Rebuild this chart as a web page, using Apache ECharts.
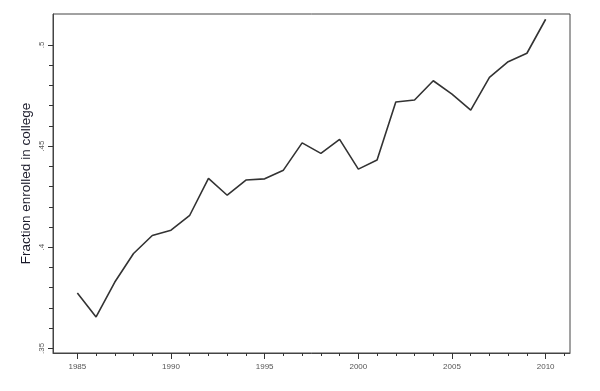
<!DOCTYPE html>
<html><head><meta charset="utf-8">
<script src="https://cdn.jsdelivr.net/npm/echarts@6/dist/echarts.min.js"></script>
<style>html,body{margin:0;padding:0;background:#fff}#c{width:600px;height:391px}</style>
</head><body><div id="c"></div>
<script>
const years = [1985,1986,1987,1988,1989,1990,1991,1992,1993,1994,1995,1996,1997,1998,1999,2000,2001,2002,2003,2004,2005,2006,2007,2008,2009,2010];
const fraction = [0.3774,0.3655,0.3828,0.3969,0.4058,0.4084,0.4158,0.4340,0.4257,0.4332,0.4338,0.4381,0.4516,0.4464,0.4533,0.4386,0.4431,0.4718,0.4728,0.4823,0.4757,0.4678,0.4840,0.4917,0.4959,0.5127];
const xMajorTicks = [1985,1990,1995,2000,2005,2010];
const xMinorTicks = [1985,1986,1987,1988,1989,1990,1991,1992,1993,1994,1995,1996,1997,1998,1999,2000,2001,2002,2003,2004,2005,2006,2007,2008,2009,2010,2011];
const yMajorTicks = [0.35,0.40,0.45,0.50];
const yMinorTicks = [0.35,0.36,0.37,0.38,0.39,0.40,0.41,0.42,0.43,0.44,0.45,0.46,0.47,0.48,0.49,0.50];
const yTitle = 'Fraction enrolled in college';

const X_MIN = 1983.7, X_MAX = 2011.3, Y_MIN = 0.3477, Y_MAX = 0.5153;
const fmtY = v => String(Math.round(v*100)/100).replace(/^0/, '');
const lab = {color:'#555', fontFamily:'Liberation Sans, Arial, sans-serif', fontSize:8};

const chart = echarts.init(document.getElementById('c'), null, {renderer:'canvas'});
chart.setOption({
  animation:false,
  grid:{left:53, top:14, width:517, height:339, show:true, borderColor:'#444', borderWidth:1, backgroundColor:'transparent'},
  xAxis:[
    {type:'value', min:X_MIN, max:X_MAX, position:'bottom',
     axisLine:{show:true, lineStyle:{color:'#444', width:1}},
     axisTick:{show:true, customValues:xMinorTicks, length:3, lineStyle:{color:'#333'}},
     axisLabel:{show:false}, splitLine:{show:false}},
    {type:'value', min:X_MIN, max:X_MAX, position:'bottom',
     axisLine:{show:false},
     axisTick:{show:true, customValues:xMajorTicks, length:6, lineStyle:{color:'#333'}},
     axisLabel:Object.assign({show:true, customValues:xMajorTicks, margin:10, formatter:v=>String(Math.round(v))}, lab),
     splitLine:{show:false}}
  ],
  yAxis:[
    {type:'value', min:Y_MIN, max:Y_MAX, position:'left',
     axisLine:{show:true, lineStyle:{color:'#444', width:1}},
     axisTick:{show:true, customValues:yMinorTicks, length:4, lineStyle:{color:'#333'}},
     axisLabel:{show:false}, splitLine:{show:false},
     name:yTitle, nameLocation:'middle', nameGap:20, nameRotate:90,
     nameTextStyle:{color:'#1a1a2a', fontFamily:'Liberation Sans, Arial, sans-serif', fontSize:13.5}},
    {type:'value', min:Y_MIN, max:Y_MAX, position:'left',
     axisLine:{show:false},
     axisTick:{show:true, customValues:yMajorTicks, length:5, lineStyle:{color:'#333'}},
     axisLabel:Object.assign({show:true, customValues:yMajorTicks, rotate:90, margin:7, formatter:fmtY}, lab),
     splitLine:{show:false}}
  ],
  series:[{type:'line', xAxisIndex:0, yAxisIndex:0, data:years.map((y,i)=>[y,fraction[i]]),
    showSymbol:false, lineStyle:{color:'#333', width:1.6}}]
});
</script></body></html>
